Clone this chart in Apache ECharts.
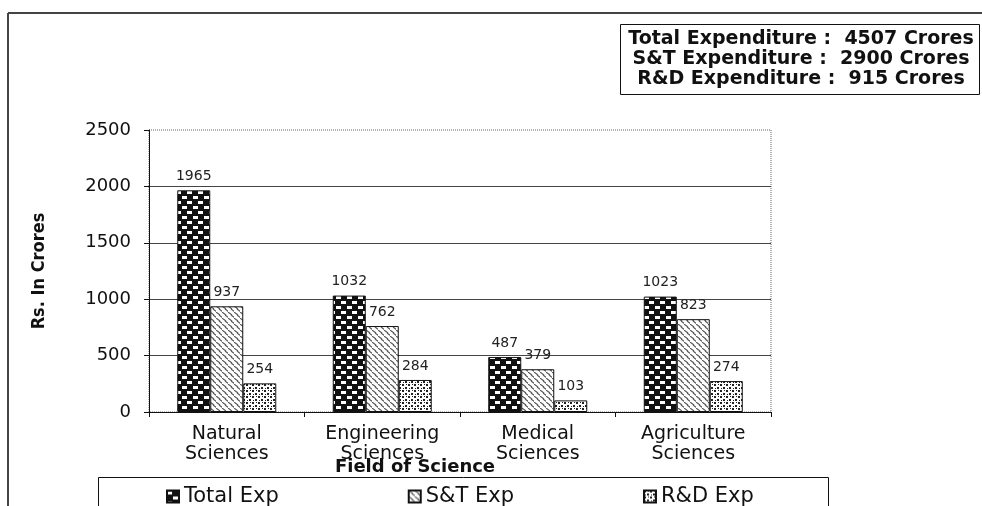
<!DOCTYPE html>
<html>
<head>
<meta charset="utf-8">
<script src="https://cdn.jsdelivr.net/npm/echarts@6/dist/echarts.min.js"></script>
<style>
html,body{margin:0;padding:0;background:#fff;}
#chart{width:982px;height:506px;}
</style>
</head>
<body>
<div id="chart"></div>
<script>
var categories = ['Natural\nSciences', 'Engineering\nSciences', 'Medical\nSciences', 'Agriculture\nSciences'];
var seriesNames = ['Total Exp', 'S&T Exp', 'R&D Exp'];
var totalExp = [1965, 1032, 487, 1023];
var stExp = [937, 762, 379, 823];
var rdExp = [254, 284, 103, 274];
var yMin = 0, yMax = 2500, yStep = 500;
var summaryLines = [
  'Total Expenditure :  4507 Crores',
  'S&T Expenditure :  2900 Crores',
  'R&D Expenditure :  915 Crores'
];
var xAxisTitle = 'Field of Science';
var yAxisTitle = 'Rs. In Crores';

function makeTile(w, h, draw) {
  var c = document.createElement('canvas');
  c.width = w; c.height = h;
  var ctx = c.getContext('2d');
  draw(ctx, w, h);
  return c;
}
var checker = makeTile(11, 10, function (ctx, w, h) {
  ctx.fillStyle = '#111'; ctx.fillRect(0, 0, w, h);
  ctx.fillStyle = '#fff';
  ctx.fillRect(0, 1, 5, 3);
  ctx.fillRect(6, 6, 5, 3);
});
var hatch = makeTile(6, 6, function (ctx, w, h) {
  ctx.fillStyle = '#fff'; ctx.fillRect(0, 0, w, h);
  ctx.strokeStyle = '#555'; ctx.lineWidth = 1.1;
  ctx.beginPath();
  ctx.moveTo(0, 0); ctx.lineTo(4, 3);
  ctx.moveTo(3, 3); ctx.lineTo(7, 6);
  ctx.stroke();
});
var speckle = makeTile(6, 6, function (ctx, w, h) {
  ctx.fillStyle = '#fff'; ctx.fillRect(0, 0, w, h);
  ctx.fillStyle = '#222';
  ctx.fillRect(0, 0, 2, 2);
  ctx.fillRect(3, 3, 2, 2);
  ctx.fillRect(4, 0, 1, 1);
  ctx.fillRect(1, 4, 1, 1);
});
var patterns = [checker, hatch, speckle];
var dataSets = [totalExp, stExp, rdExp];

var chart = echarts.init(document.getElementById('chart'), null, {renderer: 'canvas'});

var series = dataSets.map(function (d, i) {
  return {
    name: seriesNames[i],
    type: 'bar',
    data: d,
    barWidth: 33,
    barGap: '0%',
    itemStyle: {
      color: {image: patterns[i], repeat: 'repeat'},
      borderColor: '#111',
      borderWidth: 1
    },
    label: {
      show: true,
      position: 'top',
      distance: 7,
      color: '#222',
      fontFamily: 'DejaVu Sans',
      fontSize: 14
    }
  };
});

var option = {
  backgroundColor: '#fff',
  animation: false,
  grid: {
    left: 149, right: 211, top: 130, bottom: 94,
    show: true,
    borderColor: '#666',
    borderWidth: 1,
    borderType: 'dotted'
  },
  legend: {
    left: 161,
    top: 481,
    itemWidth: 12,
    itemHeight: 12,
    itemGap: 129,
    icon: 'rect',
    textStyle: {fontFamily: 'DejaVu Sans', fontSize: 21, color: '#111'},
    data: seriesNames
  },
  xAxis: {
    type: 'category',
    data: categories,
    axisLine: {lineStyle: {color: '#111', width: 1}},
    axisTick: {show: true, length: 5, lineStyle: {color: '#111'}},
    axisLabel: {
      fontFamily: 'DejaVu Sans', fontSize: 19, color: '#111',
      lineHeight: 20, margin: 12
    },
    splitLine: {show: false}
  },
  yAxis: {
    type: 'value',
    min: yMin, max: yMax, interval: yStep,
    name: yAxisTitle,
    nameLocation: 'middle',
    nameGap: 101,
    nameRotate: 90,
    nameTextStyle: {
      fontFamily: "'Liberation Sans Narrow', 'DejaVu Sans Condensed', sans-serif",
      fontWeight: 'bold', fontSize: 18, color: '#111'
    },
    axisLine: {show: true, lineStyle: {color: '#111', width: 1}},
    axisTick: {show: true, length: 5, lineStyle: {color: '#111'}},
    axisLabel: {
      fontFamily: 'DejaVu Sans', fontSize: 18, color: '#111', margin: 18,
      formatter: function (v) { return String(v); }
    },
    splitLine: {
      show: true,
      lineStyle: {color: ['#444', '#444', '#444', '#444', '#444', 'rgba(0,0,0,0)'], width: 1}
    }
  },
  graphic: [
    {type: 'line', shape: {x1: 8, y1: 13, x2: 982, y2: 13}, style: {stroke: '#444', lineWidth: 2}},
    {type: 'line', shape: {x1: 8, y1: 13, x2: 8, y2: 506}, style: {stroke: '#444', lineWidth: 2}},
    {type: 'rect', shape: {x: 620.5, y: 24.5, width: 359, height: 70}, style: {fill: '#fff', stroke: '#111', lineWidth: 1}},
    {type: 'text', x: 801, y: 39, style: {text: summaryLines[0], font: 'bold 19px "DejaVu Sans"', fill: '#111', align: 'center', verticalAlign: 'middle'}},
    {type: 'text', x: 801, y: 59, style: {text: summaryLines[1], font: 'bold 19px "DejaVu Sans"', fill: '#111', align: 'center', verticalAlign: 'middle'}},
    {type: 'text', x: 801, y: 79, style: {text: summaryLines[2], font: 'bold 19px "DejaVu Sans"', fill: '#111', align: 'center', verticalAlign: 'middle'}},
    {type: 'text', x: 415, y: 467, style: {text: xAxisTitle, font: 'bold 18px "DejaVu Sans"', fill: '#111', align: 'center', verticalAlign: 'middle'}},
    {type: 'rect', shape: {x: 98.5, y: 477.5, width: 730, height: 40}, style: {fill: 'none', stroke: '#111', lineWidth: 1}}
  ],
  series: series
};
chart.setOption(option);
</script>
</body>
</html>
